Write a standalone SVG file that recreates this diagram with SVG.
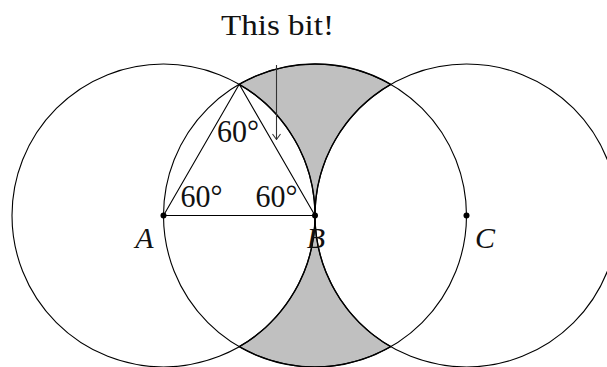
<svg xmlns="http://www.w3.org/2000/svg" width="607" height="367" viewBox="0 0 607 367">
  <defs>
    <style>
      .ln { fill: none; stroke: #000; stroke-width: 1.1; }
      .shade { fill: #c0c0c0; stroke: #000; stroke-width: 1.4; stroke-linejoin: round; }
      .lbl { font-family: "Liberation Serif", "Times New Roman", serif; font-size: 31px; fill: #111; text-anchor: middle; }
      .it { font-style: italic; font-size: 30px; }
      .cap { font-size: 30px; }
      .dot { fill: #000; }
    </style>
  </defs>
  <rect width="607" height="367" fill="#fff"/>

  <g id="shaded">
    <path class="shade" d="M239.25,84.3 A151.5,151.5 0 0 1 390.75,84.3 A151.5,151.5 0 0 0 315,215.5 A151.5,151.5 0 0 0 239.25,84.3 Z"/>
    <path class="shade" d="M239.25,346.7 A151.5,151.5 0 0 0 390.75,346.7 A151.5,151.5 0 0 1 315,215.5 A151.5,151.5 0 0 1 239.25,346.7 Z"/>
  </g>

  <g id="circles">
    <circle id="circleA" class="ln" cx="163.5" cy="215.5" r="151.5"/>
    <circle id="circleB" class="ln" cx="315" cy="215.5" r="151.5"/>
    <circle id="circleC" class="ln" cx="466.5" cy="215.5" r="151.5"/>
  </g>

  <g id="triangle">
    <path class="ln" d="M163.5,215.5 L315,215.5 L239.25,84.3 Z" stroke-linejoin="round"/>
  </g>

  <g id="connectors">
    <line x1="276.5" y1="65" x2="276.5" y2="139.5" stroke="#333" stroke-width="1.1"/>
    <path d="M272.5,134 L276.5,139.5 L280.5,134" fill="none" stroke="#333" stroke-width="1.1" stroke-linejoin="round"/>
  </g>

  <g id="pointA">
    <circle class="dot" cx="163.5" cy="215.5" r="3"/>
    <text class="lbl it" x="144.5" y="248">A</text>
  </g>
  <g id="pointB">
    <circle class="dot" cx="315" cy="215.5" r="3"/>
    <text class="lbl it" x="316" y="248">B</text>
  </g>
  <g id="pointC">
    <circle class="dot" cx="466.5" cy="215.5" r="3"/>
    <text class="lbl it" x="485" y="248">C</text>
  </g>

  <g id="angles">
    <text class="lbl" x="238" y="142" textLength="42" lengthAdjust="spacingAndGlyphs">60°</text>
    <text class="lbl" x="201.5" y="207" textLength="42" lengthAdjust="spacingAndGlyphs">60°</text>
    <text class="lbl" x="276.5" y="207" textLength="42" lengthAdjust="spacingAndGlyphs">60°</text>
  </g>

  <g id="caption">
    <text class="lbl cap" x="277.5" y="35" textLength="113" lengthAdjust="spacingAndGlyphs">This bit!</text>
  </g>
</svg>
